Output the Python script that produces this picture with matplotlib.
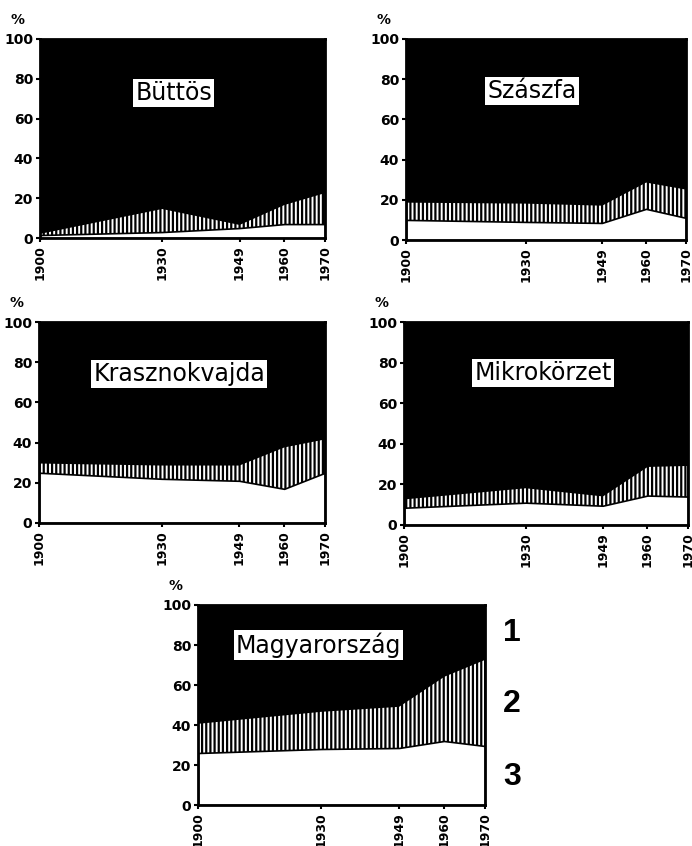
import matplotlib.pyplot as plt

plt.rcParams['hatch.linewidth'] = 1.6
plt.rcParams['hatch.color'] = 'black'

years = [1900, 1930, 1949, 1960, 1970]
year_labels = ['1900', '1930', '1949', '1960', '1970']

# layer 3 (white, bottom) and upper edge of layer 2 (hatched), in %
buttos_3 = [1.5, 3, 5, 7, 7]
buttos_2top = [2.5, 15, 7, 17, 23]
szaszfa_3 = [10, 9, 8.5, 15.5, 11]
szaszfa_2top = [19, 18.5, 17.5, 29, 25.5]
kraszno_3 = [25, 22, 21, 17, 25]
kraszno_2top = [30, 29, 29, 38, 42]
mikro_3 = [8.5, 11, 9.5, 14.5, 14]
mikro_2top = [13, 18.5, 14.5, 29, 29.5]
magyar_3 = [26, 28, 28.5, 32, 29.5]
magyar_2top = [41, 47, 49.5, 64.5, 73]

panels = [
    ('Büttös', buttos_3, buttos_2top, (40, 39, 285, 199), (0.47, 0.73)),
    ('Szászfa', szaszfa_3, szaszfa_2top, (406, 39, 280, 201), (0.45, 0.74)),
    ('Krasznokvajda', kraszno_3, kraszno_2top, (39, 322, 286, 201), (0.49, 0.74)),
    ('Mikrokörzet', mikro_3, mikro_2top, (404, 322, 284, 203), (0.49, 0.75)),
    ('Magyarország', magyar_3, magyar_2top, (198, 605, 287, 200), (0.42, 0.80)),
]

W, H = 692, 846
fig = plt.figure(figsize=(W / 100, H / 100), dpi=100)

for name, low, top, (px, py, pw, ph), (tx, ty) in panels:
    ax = fig.add_axes([px / W, (H - py - ph) / H, pw / W, ph / H])
    ax.fill_between(years, 0, 100, color='black', lw=0)
    ax.fill_between(years, 0, top, facecolor='white', edgecolor='black',
                    hatch='||||', lw=1.2)
    ax.fill_between(years, 0, low, facecolor='white', edgecolor='black', lw=1.2)
    ax.set_xlim(1900, 1970)
    ax.set_ylim(0, 100)
    ax.set_yticks([0, 20, 40, 60, 80, 100])
    ax.set_xticks(years)
    ax.set_xticklabels(year_labels, rotation=90)
    for lab in ax.get_yticklabels():
        lab.set_fontweight('bold')
        lab.set_fontsize(10)
    for lab in ax.get_xticklabels():
        lab.set_fontweight('bold')
        lab.set_fontsize(9)
    ax.tick_params(length=3, width=1.5, pad=2)
    for s in ax.spines.values():
        s.set_linewidth(2)
    ax.text(tx, ty, name, transform=ax.transAxes, ha='center', va='center',
            fontsize=17, family='DejaVu Sans', color='black',
            bbox=dict(facecolor='white', edgecolor='none', pad=1.5))
    ax.text(-0.08, 1.095, '%', transform=ax.transAxes, ha='center', va='center',
            fontsize=10, fontweight='bold')

# legend numbers beside the bottom panel
for num, y in [('1', 633), ('2', 704), ('3', 777)]:
    fig.text(512 / W, (H - y) / H, num, ha='center', va='center',
             fontsize=23, fontweight='bold', family='Liberation Sans')

fig.savefig('out.png', dpi=100, facecolor='white')
